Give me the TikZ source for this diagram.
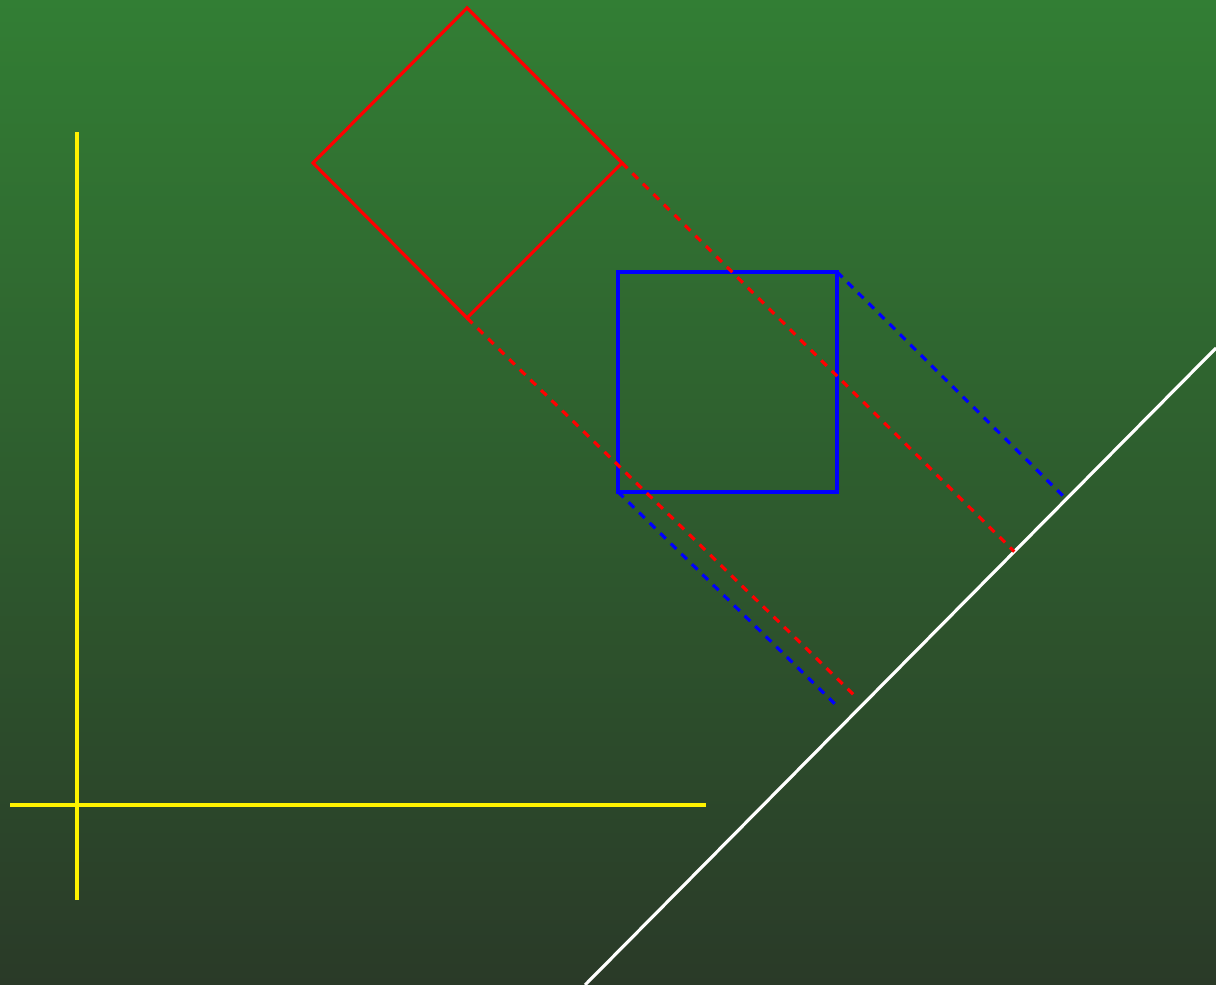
\documentclass[tikz,border=0pt]{standalone}
\usepackage{tikz}
\usetikzlibrary{calc}

\definecolor{bgtop}{RGB}{50,126,52}
\definecolor{bgbottom}{RGB}{42,58,40}

\begin{document}
\begin{tikzpicture}
  \shade[top color=bgtop, bottom color=bgbottom] (0,0) rectangle (12.16,9.85);
  \useasboundingbox (0,0) rectangle (12.16,9.85);
 \begin{scope}[line width=0.9pt]
  % axes
  \draw[yellow] (0.77,0.85) -- (0.77,8.53);
  \draw[yellow] (0.10,1.80) -- (7.06,1.80);
  % line to project on
  \coordinate (w1) at (5.85,0);
  \coordinate (w2) at (12.16,6.37);
  \draw[white] (w1) -- (w2);
  % square turned by 45 degrees
  \coordinate (rt) at (4.67,9.77);
  \coordinate (rr) at (6.22,8.22);
  \coordinate (rb) at (4.67,6.67);
  \coordinate (rl) at (3.13,8.22);
  \draw[red] (rt) -- (rr) -- (rb) -- (rl) -- cycle;
  % upright square
  \coordinate (bl) at (6.18,4.93);
  \coordinate (br) at (8.37,7.13);
  \draw[blue, line width=1pt] (bl) rectangle (br);
  % ends of the projections
  \coordinate (rrp) at ($(w1)!(rr)!(w2)$);
  \coordinate (rbp) at (8.55,2.89);
  \coordinate (brp) at ($(w1)!(br)!(w2)$);
  \coordinate (blp) at (8.36,2.80);
  % projections
  \draw[red, dash pattern=on 2.2pt off 2pt] (rr) -- (rrp);
  \draw[red, dash pattern=on 2.2pt off 2pt] (rb) -- (rbp);
  \draw[blue, dash pattern=on 2.2pt off 2pt] (br) -- (brp);
  \draw[blue, dash pattern=on 2.2pt off 2pt] (bl) -- (blp);
 \end{scope}
\end{tikzpicture}
\end{document}
